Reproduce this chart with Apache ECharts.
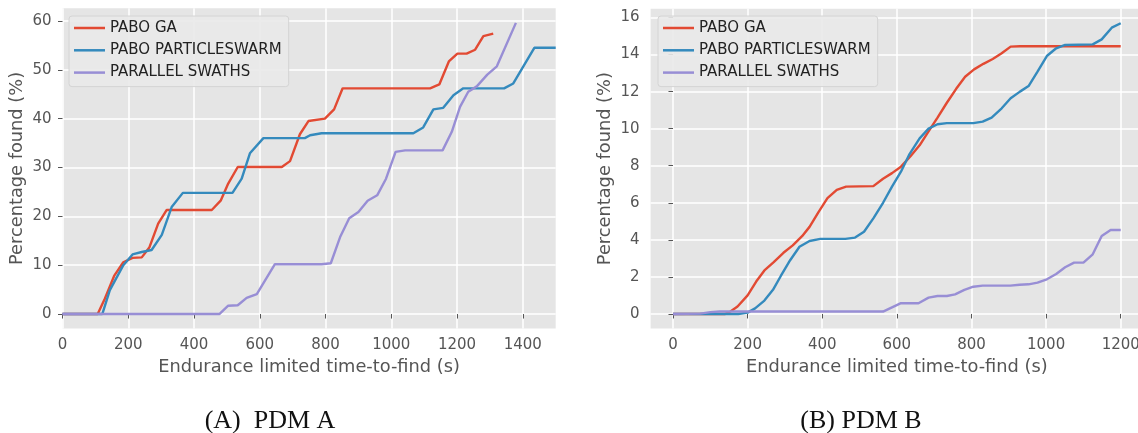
<!DOCTYPE html>
<html>
<head>
<meta charset="utf-8">
<script src="https://cdn.jsdelivr.net/npm/echarts@6/dist/echarts.min.js"></script>
<style>
  html, body { margin: 0; padding: 0; background: #fff; }
  #chart { width: 1138px; height: 433px; }
</style>
</head>
<body>
<div id="chart"></div>
<script>
// series names / colours
const seriesNames = ['PABO GA', 'PABO PARTICLESWARM', 'PARALLEL SWATHS'];
const seriesColors = ['#E24A33', '#348ABD', '#988ED5'];

// PDM A (left panel)
const gaTimesA = [0, 107, 129, 157, 185, 213, 241, 264, 291, 317, 454, 481, 504, 533, 667, 692, 722, 748, 798, 826, 852, 1118, 1146, 1175, 1201, 1229, 1255, 1280, 1310];
const gaValuesA = [0, 0, 3.2, 7.8, 10.6, 11.5, 11.6, 13.6, 18.5, 21.3, 21.3, 23.2, 26.7, 30.1, 30.1, 31.3, 36.8, 39.5, 40.0, 41.9, 46.2, 46.2, 47.0, 51.7, 53.3, 53.3, 54.1, 56.9, 57.4];
const psoTimesA = [0, 121, 144, 185, 213, 241, 271, 302, 332, 366, 517, 545, 570, 611, 737, 753, 788, 1067, 1097, 1128, 1158, 1189, 1219, 1343, 1371, 1435, 1500];
const psoValuesA = [0, 0, 4.9, 10.0, 12.2, 12.7, 13.1, 16.2, 21.9, 24.8, 24.8, 27.7, 32.9, 36.0, 36.0, 36.6, 37.0, 37.0, 38.2, 41.9, 42.2, 44.8, 46.2, 46.2, 47.2, 54.5, 54.5];
const swathTimesA = [0, 477, 504, 533, 560, 591, 646, 788, 816, 844, 872, 900, 928, 957, 984, 1013, 1042, 1156, 1184, 1209, 1234, 1260, 1292, 1321, 1379];
const swathValuesA = [0, 0, 1.7, 1.8, 3.3, 4.1, 10.2, 10.2, 10.4, 15.7, 19.6, 20.9, 23.2, 24.3, 27.7, 33.2, 33.5, 33.5, 37.3, 42.4, 45.5, 46.6, 49.0, 50.7, 59.6];

// PDM B (right panel)
const gaTimesB = [0, 140, 153, 173, 200, 223, 245, 270, 296, 321, 346, 366, 390, 414, 439, 464, 537, 563, 587, 611, 636, 661, 685, 709, 734, 759, 783, 807, 832, 857, 881, 905, 930, 1200];
const gaValuesB = [0, 0, 0.12, 0.4, 1.0, 1.75, 2.35, 2.8, 3.3, 3.7, 4.2, 4.7, 5.5, 6.25, 6.7, 6.87, 6.9, 7.3, 7.6, 7.95, 8.5, 9.1, 9.85, 10.6, 11.4, 12.15, 12.8, 13.2, 13.5, 13.76, 14.07, 14.43, 14.45, 14.45];
const psoTimesB = [0, 175, 200, 220, 245, 268, 289, 314, 339, 366, 395, 462, 488, 512, 537, 563, 587, 611, 634, 661, 685, 709, 734, 805, 830, 854, 881, 905, 930, 953, 977, 1002, 1027, 1051, 1125, 1149, 1176, 1200];
const psoValuesB = [0, 0, 0.07, 0.3, 0.72, 1.3, 2.05, 2.9, 3.63, 3.94, 4.05, 4.05, 4.12, 4.44, 5.16, 6.0, 6.87, 7.68, 8.63, 9.48, 10.0, 10.24, 10.3, 10.3, 10.38, 10.6, 11.1, 11.64, 12.0, 12.3, 13.08, 13.92, 14.34, 14.52, 14.55, 14.82, 15.45, 15.69];
const swathTimesB = [0, 73, 100, 125, 563, 611, 658, 685, 709, 734, 756, 781, 805, 830, 904, 929, 953, 977, 1002, 1027, 1051, 1075, 1100, 1125, 1149, 1173, 1200];
const swathValuesB = [0, 0.02, 0.1, 0.13, 0.13, 0.58, 0.58, 0.88, 0.97, 0.97, 1.06, 1.3, 1.47, 1.53, 1.53, 1.58, 1.6, 1.69, 1.87, 2.16, 2.52, 2.77, 2.77, 3.22, 4.21, 4.53, 4.53];

// tick labels
const xTicksA = [0, 200, 400, 600, 800, 1000, 1200, 1400];
const yTicksA = [0, 10, 20, 30, 40, 50, 60];
const xTicksB = [0, 200, 400, 600, 800, 1000, 1200];
const yTicksB = [0, 2, 4, 6, 8, 10, 12, 14, 16];

const captions = ['(A)\u00a0\u00a0PDM A', '(B) PDM B'];

const zip = (xs, ys) => xs.map((x, i) => [x, ys[i]]);

const panels = [
  [zip(gaTimesA, gaValuesA), zip(psoTimesA, psoValuesA), zip(swathTimesA, swathValuesA)],
  [zip(gaTimesB, gaValuesB), zip(psoTimesB, psoValuesB), zip(swathTimesB, swathValuesB)],
];

const FONT = 'DejaVu Sans';
const GREY = '#555555';

function xAxis(idx, min, max, ticks) {
  return {
    type: 'value', gridIndex: idx, min, max,
    name: 'Endurance limited time-to-find (s)',
    nameLocation: 'middle', nameGap: 30,
    nameTextStyle: { color: GREY, fontSize: 17.8, fontFamily: FONT },
    axisLine: { show: false },
    axisTick: { show: true, length: 4.5, customValues: ticks, lineStyle: { color: GREY, width: 1 } },
    axisLabel: { customValues: ticks, formatter: v => String(v), color: GREY, fontSize: 15, fontFamily: FONT, margin: 9 },
    splitLine: { show: true, lineStyle: { color: '#ffffff', width: 1.5 } },
  };
}

function yAxis(idx, min, max, ticks) {
  return {
    type: 'value', gridIndex: idx, min, max,
    name: 'Percentage found (%)',
    nameLocation: 'middle', nameGap: 36,
    nameTextStyle: { color: GREY, fontSize: 17.8, fontFamily: FONT },
    axisLine: { show: false },
    axisTick: { show: true, length: 4.5, customValues: ticks, lineStyle: { color: GREY, width: 1 } },
    axisLabel: { customValues: ticks, formatter: v => String(v), color: GREY, fontSize: 15, fontFamily: FONT, margin: 11 },
    splitLine: { show: true, lineStyle: { color: '#ffffff', width: 1.5 } },
  };
}

function legend(left) {
  return {
    orient: 'vertical', left, top: 16,
    data: seriesNames,
    icon: 'rect', itemWidth: 31, itemHeight: 2.5, itemGap: 6.3, itemTextGap: 12,
    padding: [4, 7, 6, 5],
    backgroundColor: 'rgba(233,233,233,0.9)',
    borderColor: '#d4d4d4', borderWidth: 1, borderRadius: 3,
    selectedMode: false,
    textStyle: { color: '#222', fontSize: 15, fontFamily: FONT, lineHeight: 16 },
  };
}

const series = [];
panels.forEach((lines, p) => {
  lines.forEach((data, i) => {
    series.push({
      type: 'line', name: seriesNames[i], xAxisIndex: p, yAxisIndex: p,
      data, showSymbol: false, symbol: 'none',
      color: seriesColors[i],
      lineStyle: { color: seriesColors[i], width: 2.4 },
      z: 2 + i,
    });
  });
});

const chart = echarts.init(document.getElementById('chart'));
chart.setOption({
  animation: false,
  backgroundColor: '#ffffff',
  grid: [
    { left: 62.5, top: 8.3, width: 493.2, height: 320.3, show: true, backgroundColor: '#E5E5E5', borderWidth: 0, outerBoundsMode: 'none' },
    { left: 650.6, top: 8.8, width: 492.5, height: 319.7, show: true, backgroundColor: '#E5E5E5', borderWidth: 0, outerBoundsMode: 'none' },
  ],
  xAxis: [xAxis(0, 0, 1500, xTicksA), xAxis(1, -60, 1260, xTicksB)],
  yAxis: [yAxis(0, -2.98, 62.58, yTicksA), yAxis(1, -0.785, 16.47, yTicksB)],
  legend: [legend(69), legend(658)],
  series,
  graphic: [
    { type: 'text', x: 270, y: 421, style: { text: captions[0], font: '26px "Liberation Serif"', fill: '#111', align: 'center', verticalAlign: 'middle' } },
    { type: 'text', x: 861, y: 421, style: { text: captions[1], font: '26px "Liberation Serif"', fill: '#111', align: 'center', verticalAlign: 'middle' } },
  ],
});
</script>
</body>
</html>
